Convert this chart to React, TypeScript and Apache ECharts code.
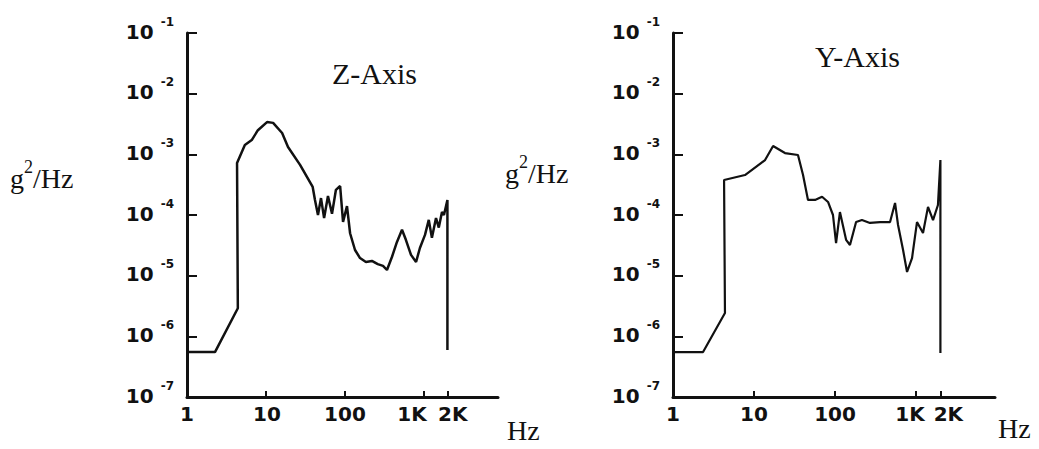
import React, { useEffect, useRef } from "react";
import * as echarts from "echarts";

// Z-Axis PSD (Hz, g^2/Hz)
const zFreq = [1, 2.26, 4.4, 4.3, 5.4, 6.6, 7.9, 10.3, 12.3, 16, 19, 27, 39, 41.7, 45.5, 49.7, 54.4, 60.9, 68.5, 76.8, 86.8, 94.5, 106, 116, 134, 155, 184, 219, 260, 303, 340, 394, 455, 527, 590, 685, 794, 888, 1030, 1150, 1260, 1420, 1540, 1690, 1790, 1980, 1980];
const zPsd = [5.5e-7, 5.5e-7, 2.9e-6, 7.2e-4, 1.43e-3, 1.72e-3, 2.5e-3, 3.4e-3, 3.3e-3, 2.25e-3, 1.32e-3, 6.7e-4, 2.9e-4, 1.77e-4, 1.0e-4, 1.9e-4, 8.9e-5, 2.05e-4, 1.05e-4, 2.6e-4, 3.0e-4, 7.7e-5, 1.4e-4, 5.0e-5, 2.65e-5, 1.95e-5, 1.68e-5, 1.75e-5, 1.55e-5, 1.45e-5, 1.24e-5, 2.05e-5, 3.6e-5, 5.7e-5, 3.9e-5, 2.2e-5, 1.68e-5, 2.86e-5, 4.7e-5, 8.3e-5, 4.2e-5, 8.9e-5, 6.2e-5, 1.12e-4, 1.0e-4, 1.77e-4, 5.95e-7];

// Y-Axis PSD (Hz, g^2/Hz)
const yFreq = [1, 2.35, 4.38, 4.27, 7.74, 13.7, 17.2, 24.1, 34.9, 40.3, 46.4, 56.6, 69.2, 82, 94.4, 103, 115, 137, 153, 182, 215, 270, 360, 478, 551, 600, 692, 775, 893, 1028, 1220, 1406, 1622, 1865, 2000, 2000];
const yPsd = [5.5e-7, 5.5e-7, 2.43e-6, 3.78e-4, 4.56e-4, 8.05e-4, 1.37e-3, 1.05e-3, 9.75e-4, 4.56e-4, 1.77e-4, 1.77e-4, 2.0e-4, 1.64e-4, 1.0e-4, 3.45e-5, 1.12e-4, 3.9e-5, 3.2e-5, 7.65e-5, 8.26e-5, 7.4e-5, 7.65e-5, 7.65e-5, 1.58e-4, 6.84e-5, 2.65e-5, 1.15e-5, 1.95e-5, 7.65e-5, 5.05e-5, 1.36e-4, 8.26e-5, 1.46e-4, 8.05e-4, 5.3e-7];

const xTickValues = [1, 10, 100, 1000, 2000];
const xTickLabels = ["1", "10", "100", "1K", "2K"];
const xMinorTickValues = [10, 100, 1000, 2000];
const yMin = 1e-7;
const yMax = 1e-1;

const INK = "#111";
const TICK_FONT = "DejaVu Sans";
const SERIF = "Liberation Serif";

const labelStyle = {
  fontFamily: TICK_FONT,
  fontWeight: "bold",
  fontSize: 20,
  color: INK,
};

function xAxisFor(gridIndex: number, max: number, shifts: number[]) {
  const rich: Record<string, any> = {};
  xTickLabels.forEach((_, i) => {
    const d = shifts[i];
    rich["t" + i] = {
      ...labelStyle,
      padding: d < 0 ? [0, -2 * d, 0, 0] : [0, 0, 0, 2 * d],
    };
  });
  return {
    type: "log",
    logBase: 10,
    gridIndex,
    min: 1,
    max,
    axisLine: { show: true, lineStyle: { color: INK, width: 3 } },
    axisTick: {
      show: true,
      inside: true,
      length: 6,
      customValues: xMinorTickValues,
      lineStyle: { color: INK, width: 2 },
    },
    minorTick: { show: false },
    splitLine: { show: false },
    axisLabel: {
      show: true,
      customValues: xTickValues,
      margin: 7,
      ...labelStyle,
      rich,
      formatter: (v: number) => {
        const i = xTickValues.findIndex((t) => Math.abs(t - v) / t < 1e-6);
        return i >= 0 ? `{t${i}|${xTickLabels[i]}}` : "";
      },
    },
  };
}

function yAxisFor(gridIndex: number) {
  return {
    type: "log",
    logBase: 10,
    gridIndex,
    min: yMin,
    max: yMax,
    axisLine: { show: true, lineStyle: { color: INK, width: 3 } },
    axisTick: { show: true, inside: true, length: 10, lineStyle: { color: INK, width: 2 } },
    minorTick: { show: false },
    splitLine: { show: false },
    axisLabel: {
      show: true,
      margin: 13,
      padding: [0, 0, 2, 0],
      formatter: (v: number) => `{b|10}{e|${Math.round(Math.log10(v))}}`,
      rich: {
        b: {
          ...labelStyle,
          lineHeight: 19,
          verticalAlign: "bottom",
          padding: [0, 7, 0, 0],
        },
        e: {
          ...labelStyle,
          fontSize: 12,
          lineHeight: 13,
          verticalAlign: "bottom",
          padding: [0, 0, 14, 0],
        },
      },
    },
  };
}

function psdLabel(x: number, y: number) {
  return {
    type: "text",
    x,
    y,
    style: {
      text: "{a|g}{s|2}{a|/Hz}",
      verticalAlign: "middle",
      align: "left",
      rich: {
        a: { fontFamily: SERIF, fontSize: 28, fill: INK, lineHeight: 30, verticalAlign: "bottom" },
        s: { fontFamily: SERIF, fontSize: 18, fill: INK, lineHeight: 18, verticalAlign: "bottom", padding: [0, 0, 16, 0] },
      },
    },
  };
}

function plainText(text: string, x: number, y: number, size: number) {
  return {
    type: "text",
    x,
    y,
    style: {
      text,
      fontFamily: SERIF,
      fontSize: size,
      fill: INK,
      verticalAlign: "middle",
      align: "left",
    },
  };
}

export default function App() {
  const ref = useRef<HTMLDivElement>(null);
  useEffect(() => {
    if (!ref.current) return;
    const chart = echarts.init(ref.current, undefined, { renderer: "svg" });
    const zData = zFreq.map((f, i) => [f, zPsd[i]]);
    const yData = yFreq.map((f, i) => [f, yPsd[i]]);
    chart.setOption({
      animation: false,
      backgroundColor: "#ffffff",
      grid: [
        { left: 187, top: 33, width: 311, height: 364, containLabel: false, outerBoundsMode: "none" },
        { left: 673, top: 33, width: 322, height: 364, containLabel: false, outerBoundsMode: "none" },
      ],
      xAxis: [xAxisFor(0, 8650, [0, 1, 0, -12, 5]), xAxisFor(1, 9440, [0, 0, 0, -6, 8])],
      yAxis: [yAxisFor(0), yAxisFor(1)],
      series: [
        {
          type: "line",
          xAxisIndex: 0,
          yAxisIndex: 0,
          data: zData,
          showSymbol: false,
          symbol: "none",
          lineStyle: { color: INK, width: 2.5 },
        },
        {
          type: "line",
          xAxisIndex: 1,
          yAxisIndex: 1,
          data: yData,
          showSymbol: false,
          symbol: "none",
          lineStyle: { color: INK, width: 2.2 },
        },
      ],
      graphic: [
        plainText("Z-Axis", 332, 73, 30),
        plainText("Y-Axis", 815, 56, 30),
        psdLabel(10, 177),
        psdLabel(505, 172),
        plainText("Hz", 507, 430, 28),
        plainText("Hz", 998, 428, 28),
      ],
    });
    return () => chart.dispose();
  }, []);
  return (
    <div
      ref={ref}
      style={{ position: "fixed", left: 0, top: 0, width: 1039, height: 449, background: "#fff" }}
    />
  );
}
